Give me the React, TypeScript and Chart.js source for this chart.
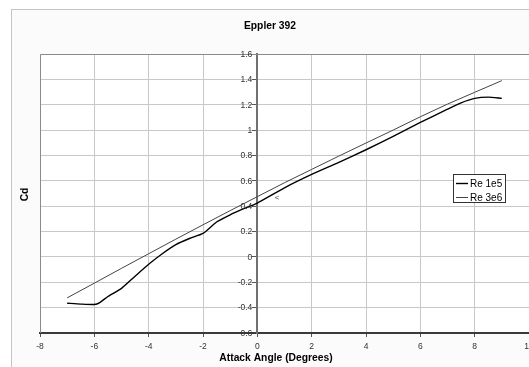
import React, { useEffect, useRef } from "react";
import { Chart, registerables } from "chart.js";

Chart.register(...registerables);

const CHART_TITLE = "Eppler 392";
const X_TITLE = "Attack Angle (Degrees)";
const Y_TITLE = "Cd";
const SERIES_NAMES = ["Re 1e5", "Re 3e6"];

const ANGLES_RE1E5 = [-7, -6.5, -6, -5.8, -5.5, -5, -4.5, -4, -3.5, -3, -2.5, -2, -1.5, -1, -0.5, 0, 1, 2, 3, 4, 5, 6, 7, 7.5, 8, 8.5, 9];
const CD_RE1E5 = [-0.365, -0.372, -0.375, -0.36, -0.312, -0.248, -0.152, -0.058, 0.025, 0.097, 0.145, 0.185, 0.275, 0.332, 0.38, 0.425, 0.545, 0.65, 0.745, 0.845, 0.95, 1.06, 1.165, 1.215, 1.25, 1.26, 1.25];

const ANGLES_RE3E6 = [-7, -6, -5, -4, -3, -2, -1, 0, 1, 2, 3, 4, 5, 6, 7, 8, 9];
const CD_RE3E6 = [-0.323, -0.207, -0.09, 0.025, 0.14, 0.253, 0.365, 0.475, 0.585, 0.69, 0.795, 0.898, 1.0, 1.105, 1.205, 1.298, 1.39];

const X_MIN = -8;
const X_MAX = 10;
const X_STEP = 2;
const Y_MIN = -0.6;
const Y_MAX = 1.6;
const Y_STEP = 0.2;

const NOTE_X = [0.73];
const NOTE_Y = [0.47];
const NOTE_TEXT = ["<"];

const FONT = "'Liberation Sans', Arial, sans-serif";

const fmtY = (v: number) => String(Math.round(v * 10) / 10);

const decorPlugin = {
  id: "decor",
  beforeDraw(chart: any) {
    const { ctx, chartArea: ca, width, height } = chart;
    ctx.save();
    ctx.fillStyle = "#ffffff";
    ctx.fillRect(0, 0, width, height);
    ctx.fillStyle = "#fbfbfb";
    ctx.fillRect(11, 9, width, height);
    ctx.strokeStyle = "#c4c4c4";
    ctx.lineWidth = 1;
    ctx.strokeRect(11.5, 9.5, width + 10, height + 10);
    ctx.fillStyle = "#ffffff";
    ctx.fillRect(ca.left, ca.top, ca.right - ca.left, ca.bottom - ca.top);
    ctx.restore();
  },
  afterDraw(chart: any) {
    const { ctx, chartArea: ca, scales } = chart;
    ctx.save();
    // plot frame top & left
    ctx.strokeStyle = "#8a8a8a";
    ctx.lineWidth = 1;
    ctx.beginPath();
    ctx.moveTo(Math.round(ca.left) + 0.5, ca.bottom);
    ctx.lineTo(Math.round(ca.left) + 0.5, Math.round(ca.top) + 0.5);
    ctx.lineTo(ca.right, Math.round(ca.top) + 0.5);
    ctx.stroke();

    // y tick labels beside the crossing axis
    const axisX = scales.x.getPixelForValue(0);
    ctx.font = `8.5px ${FONT}`;
    ctx.fillStyle = "#333";
    ctx.textAlign = "right";
    ctx.textBaseline = "middle";
    scales.y.ticks.forEach((t: any) => {
      ctx.fillText(fmtY(t.value), axisX - 5, scales.y.getPixelForValue(t.value) + 0.5);
    });

    // titles
    ctx.fillStyle = "#000";
    ctx.textAlign = "center";
    ctx.textBaseline = "middle";
    ctx.font = `bold 10.3px ${FONT}`;
    ctx.fillText(CHART_TITLE, 270, 26);
    ctx.fillText(X_TITLE, 276, 358);
    ctx.save();
    ctx.translate(25, (ca.top + ca.bottom) / 2 + 1);
    ctx.rotate(-Math.PI / 2);
    ctx.fillText(Y_TITLE, 0, 0);
    ctx.restore();

    // note
    ctx.font = `8px ${FONT}`;
    ctx.fillStyle = "#444";
    NOTE_TEXT.forEach((t, i) => {
      ctx.fillText(t, scales.x.getPixelForValue(NOTE_X[i]), scales.y.getPixelForValue(NOTE_Y[i]));
    });

    // legend
    const lx = 453.5, ly = 174.5, lw = 52, lh = 28;
    ctx.fillStyle = "#ffffff";
    ctx.fillRect(lx, ly, lw, lh);
    ctx.strokeStyle = "#333";
    ctx.lineWidth = 1;
    ctx.strokeRect(lx, ly, lw, lh);
    ctx.font = `10px ${FONT}`;
    ctx.textAlign = "left";
    chart.data.datasets.forEach((ds: any, i: number) => {
      const y = 183 + i * 14;
      ctx.strokeStyle = ds.borderColor;
      ctx.lineWidth = ds.borderWidth;
      ctx.beginPath();
      ctx.moveTo(456, y + 0.5);
      ctx.lineTo(468, y + 0.5);
      ctx.stroke();
      ctx.fillStyle = "#000";
      ctx.fillText(ds.label, 470, y + 1);
    });
    ctx.restore();
  },
};

export default function App() {
  const ref = useRef<HTMLCanvasElement | null>(null);
  useEffect(() => {
    if (!ref.current) return;
    const chart = new Chart(ref.current, {
      type: "scatter",
      data: {
        datasets: [
          {
            label: SERIES_NAMES[0],
            data: ANGLES_RE1E5.map((x, i) => ({ x, y: CD_RE1E5[i] })),
            showLine: true,
            borderColor: "#000000",
            borderWidth: 1.4,
            pointRadius: 0,
            tension: 0.2,
          },
          {
            label: SERIES_NAMES[1],
            data: ANGLES_RE3E6.map((x, i) => ({ x, y: CD_RE3E6[i] })),
            showLine: true,
            borderColor: "#454545",
            borderWidth: 1,
            pointRadius: 0,
            tension: 0,
          },
        ],
      },
      options: {
        responsive: false,
        animation: false,
        devicePixelRatio: 1,
        layout: { padding: { left: 40, top: 54, right: 0, bottom: 0 } },
        plugins: { legend: { display: false }, title: { display: false }, tooltip: { enabled: false } },
        scales: {
          x: {
            type: "linear",
            min: X_MIN,
            max: X_MAX,
            position: "bottom",
            ticks: {
              stepSize: X_STEP,
              color: "#333",
              font: { family: FONT, size: 8.5 },
              padding: 5,
              maxRotation: 0,
              callback: (v: any) => String(Math.round(Number(v))),
            },
            grid: { color: "#c8c8c8", lineWidth: 1, tickLength: 4, tickColor: "#555" },
            border: { color: "#3a3a3a", width: 2 },
            afterFit: (s: any) => {
              s.height = 34;
              s.paddingLeft = 0;
              s.paddingRight = 0;
            },
          },
          y: {
            type: "linear",
            axis: "y",
            min: Y_MIN,
            max: Y_MAX,
            position: { x: 0 },
            ticks: {
              stepSize: Y_STEP,
              display: false,
              callback: (v: any) => fmtY(Number(v)),
            },
            grid: { color: "#c8c8c8", lineWidth: 1, tickLength: 4, tickColor: "#555" },
            border: { color: "#707070", width: 2 },
            afterFit: (s: any) => {
              s.paddingTop = 0;
              s.paddingBottom = 0;
            },
          },
        },
      } as any,
      plugins: [decorPlugin],
    });
    return () => chart.destroy();
  }, []);
  return (
    <div style={{ position: "absolute", left: 0, top: 0, width: 529, height: 367 }}>
      <canvas ref={ref} width={529} height={367} style={{ display: "block" }} />
    </div>
  );
}
